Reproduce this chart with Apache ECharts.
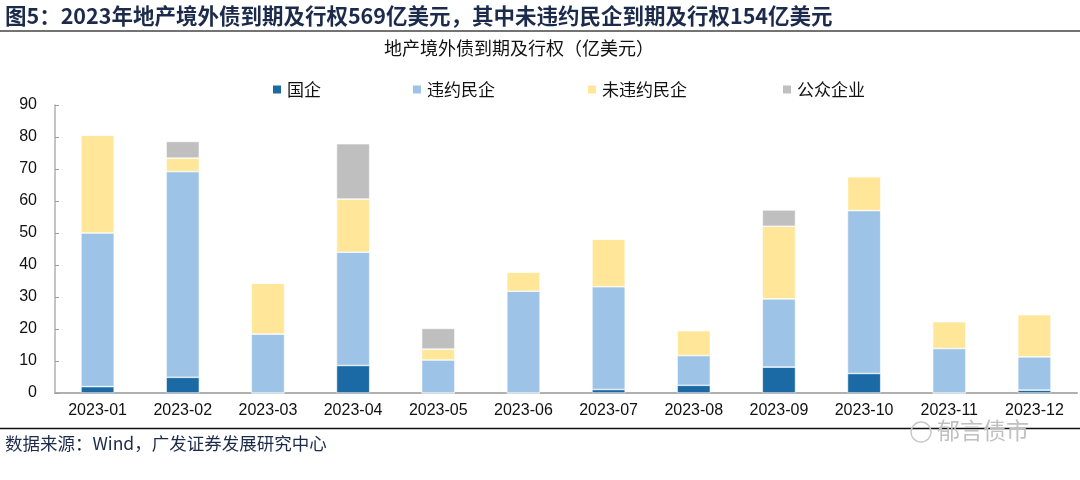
<!DOCTYPE html>
<html><head><meta charset="utf-8">
<script src="https://cdn.jsdelivr.net/npm/echarts@6/dist/echarts.min.js"></script>
<style>html,body{margin:0;padding:0;background:#fff}#c{width:1080px;height:480px}</style>
</head><body><div id="c"></div>
<script>
const categories = ['2023-01','2023-02','2023-03','2023-04','2023-05','2023-06','2023-07','2023-08','2023-09','2023-10','2023-11','2023-12'];
const soe        = [2.0, 4.9, 0, 8.6, 0, 0, 1.1, 2.4, 8.1, 6.1, 0, 0.9];
const defaulted  = [48.0, 64.3, 18.4, 35.4, 10.3, 31.8, 32.1, 9.3, 21.3, 50.9, 13.9, 10.4];
const nonDefault = [30.6, 4.2, 15.9, 16.6, 3.4, 6.0, 14.9, 7.8, 22.7, 10.6, 8.4, 13.2];
const publicEnt  = [0, 5.2, 0, 17.3, 6.5, 0, 0, 0, 5.1, 0, 0, 0];
const seriesNames = ['国企','违约民企','未违约民企','公众企业'];
const yTicks = {min: 0, max: 90, interval: 10};

const colors = ['#1b6aa5','#9dc3e6','#ffe699','#bfbfbf'];
const cjk = '"Noto Sans CJK SC", sans-serif';
const latin = '"Liberation Sans", Arial, sans-serif';
const chart = echarts.init(document.getElementById('c'));
const legendLefts = [266, 406, 581, 776];
const dataSets = [soe, defaulted, nonDefault, publicEnt];
chart.setOption({
  animation: false,
  color: colors,
  legend: seriesNames.map((n, i) => ({
    data: [n], left: legendLefts[i], top: 76, itemWidth: 10, itemHeight: 10, itemGap: 5,
    icon: 'rect', textStyle: {fontFamily: cjk, fontSize: 17, color: '#111'}
  })),
  grid: {left: 55, right: 3, top: 105, bottom: 87, containLabel: false},
  xAxis: {
    type: 'category', data: categories,
    axisLine: {lineStyle: {color: '#b0b0b0', width: 2}},
    axisTick: {inside: true, length: 5, lineStyle: {color: '#888'}},
    axisLabel: {fontFamily: latin, fontSize: 16, color: '#111', margin: 10}
  },
  yAxis: {
    type: 'value', min: yTicks.min, max: yTicks.max, interval: yTicks.interval,
    splitLine: {show: false},
    axisLine: {show: true, lineStyle: {color: '#b0b0b0', width: 1.5}},
    axisTick: {show: true, inside: true, length: 4, lineStyle: {color: '#999'}},
    axisLabel: {fontFamily: latin, fontSize: 16, color: '#111', margin: 18}
  },
  series: seriesNames.map((n, i) => ({
    name: n, type: 'bar', stack: 'total', data: dataSets[i], barWidth: '39%',
    itemStyle: {borderColor: '#fff', borderWidth: 0.6}
  })),
  graphic: [
    {type: 'text', left: 5, top: 5, style: {text: '图5：2023年地产境外债到期及行权569亿美元，其中未违约民企到期及行权154亿美元', font: 'bold 21.5px "Noto Sans CJK SC", sans-serif', fill: '#1c2b4b'}},
    {type: 'line', shape: {x1: 0, y1: 31, x2: 1080, y2: 31}, style: {stroke: '#444', lineWidth: 1.5}},
    {type: 'text', left: 384, top: 39, style: {text: '地产境外债到期及行权（亿美元）', font: '18px "Noto Sans CJK SC", sans-serif', fill: '#111'}},
    {type: 'line', shape: {x1: 0, y1: 428.5, x2: 1080, y2: 428.5}, style: {stroke: '#111', lineWidth: 1.5}},
    {type: 'text', left: 5, top: 435, style: {text: '数据来源：Wind，广发证券发展研究中心', font: '17.5px "Noto Sans CJK SC", sans-serif', fill: '#1c2b4b'}},
    {type: 'circle', shape: {cx: 921, cy: 432, r: 10}, style: {fill: 'none', stroke: '#c8c8c8', lineWidth: 1.5}},
    {type: 'text', left: 937, top: 419, style: {text: '郁言债市', font: '23px "Noto Sans CJK SC", sans-serif', fill: '#c0c0c0'}}
  ]
});
</script></body></html>
